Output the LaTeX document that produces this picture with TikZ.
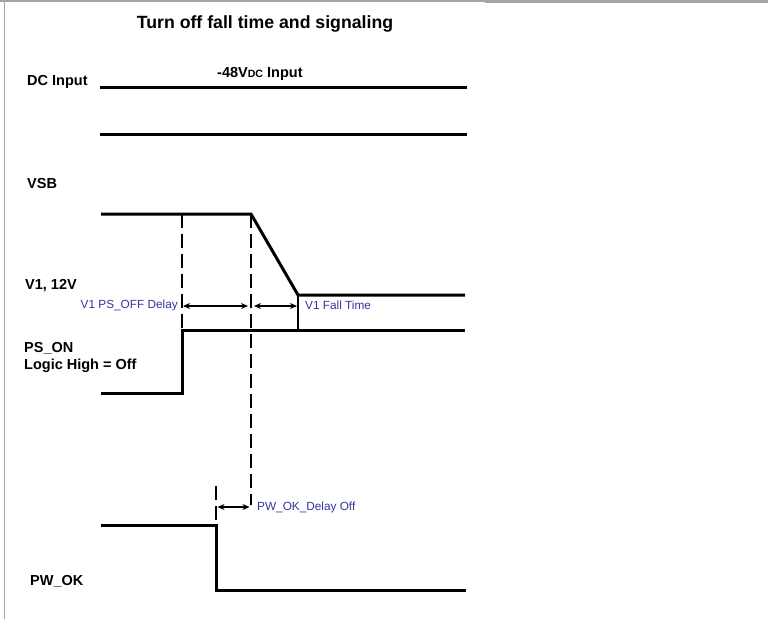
\documentclass[tikz,border=0pt]{standalone}
\usepackage{fontspec}
\setmainfont{Liberation Sans}
\usetikzlibrary{arrows.meta}
\definecolor{lbl}{RGB}{51,51,160}
\definecolor{frm}{RGB}{165,165,165}
\begin{document}
\begin{tikzpicture}[x=1pt,y=-1pt,
 sig/.style={line width=3pt, line join=miter},
 dsh/.style={line width=1.8pt, dash pattern=on 13.5pt off 6.5pt},
 tick/.style={line width=1.4pt},
 dim/.style={line width=1.3pt, {Stealth[length=7pt,width=6pt]}-{Stealth[length=7pt,width=6pt]}},
 lab/.style={font=\fontsize{14.5}{17}\selectfont\bfseries, inner sep=0pt, anchor=base west},
 ttl/.style={font=\fontsize{17.7}{20}\selectfont\bfseries, inner sep=0pt, anchor=base},
 blu/.style={font=\fontsize{11.8}{14}\selectfont, text=lbl, inner sep=0pt}]
\useasboundingbox (0,0) rectangle (768,619);
% frame
\coordinate (fa) at (0,1); \coordinate (fb) at (485,1);
\coordinate (fc) at (485,1.5); \coordinate (fd) at (768,1.5);
\coordinate (fe) at (4.5,0); \coordinate (ff) at (4.5,619);
\draw[frm, line width=1.2pt] (fa) -- (fb);
\draw[frm, line width=2.6pt] (fc) -- (fd);
\draw[frm, line width=1.5pt] (fe) -- (ff);
% texts
\node[ttl] (title) at (265,28) {Turn off fall time and signaling};
\node[lab] (ldc) at (27,85) {DC Input};
\node[lab] (l48) at (217,77) {-48V{\fontsize{10.6}{12}\selectfont DC} Input};
\node[lab] (lvsb) at (27,188) {VSB};
\node[lab] (lv1) at (25,289) {V1, 12V};
\node[lab] (lps1) at (24,352) {PS\_ON};
\node[lab] (lps2) at (24,369) {Logic High = Off};
\node[lab] (lpw) at (30,585) {PW\_OK};
\node[blu, anchor=base east] (lpsoff) at (178,308) {V1 PS\_OFF Delay};
\node[blu, anchor=base west] (lfall) at (305,309) {V1 Fall Time};
\node[blu, anchor=base west] (lpwd) at (257,510) {PW\_OK\_Delay Off};
% DC input
\coordinate (dc1a) at (100,87); \coordinate (dc1b) at (467,87);
\coordinate (dc2a) at (100,134); \coordinate (dc2b) at (467,134);
\draw[sig] (dc1a) -- (dc1b);
\draw[sig] (dc2a) -- (dc2b);
% VSB / V1
\coordinate (v0) at (101,214); \coordinate (v1) at (251,214);
\coordinate (v2) at (298,295); \coordinate (v3) at (465,295);
\draw[sig] (v0) -- (v1) -- (v2) -- (v3);
% PS_ON
\coordinate (p0) at (101,393); \coordinate (p1) at (182,393);
\coordinate (p2) at (182,330); \coordinate (p3) at (465,330);
\draw[sig] (p0) -- (p1) -- (p2) -- (p3);
% PW_OK
\coordinate (w0) at (101,525); \coordinate (w1) at (216,525);
\coordinate (w2) at (216,590); \coordinate (w3) at (466,590);
\draw[sig] (w0) -- (w1) -- (w2) -- (w3);
% dashed markers
\coordinate (d1t) at (182,214); \coordinate (d1b) at (182,330);
\coordinate (d2t) at (251,214); \coordinate (d2b) at (251,505);
\coordinate (d3t) at (216,486); \coordinate (d3b) at (216,525);
\draw[dsh] (d1t) -- (d1b);
\draw[dsh] (d2t) -- (d2b);
\draw[dsh] (d3t) -- (d3b);
\coordinate (t1t) at (298,295); \coordinate (t1b) at (298,330);
\draw[tick] (t1t) -- (t1b);
% dimension arrows
\coordinate (a1l) at (183,306); \coordinate (a1r) at (248,306);
\coordinate (a2l) at (254,306); \coordinate (a2r) at (297,306);
\coordinate (a3l) at (217.5,507); \coordinate (a3r) at (249.5,507);
\draw[dim] (a1l) -- (a1r);
\draw[dim] (a2l) -- (a2r);
\draw[dim] (a3l) -- (a3r);
\end{tikzpicture}
\end{document}
